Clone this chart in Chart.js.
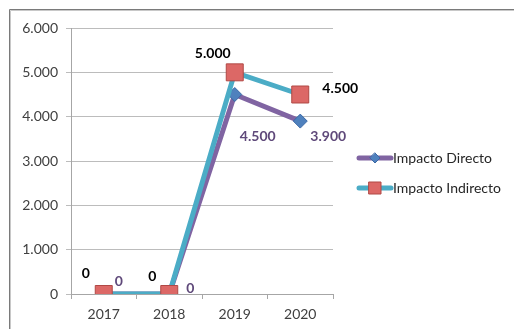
<!DOCTYPE html>
<html>
<head>
<meta charset="utf-8">
<script src="https://cdn.jsdelivr.net/npm/chart.js@4.4.1/dist/chart.umd.min.js"></script>
<style>
  html, body { margin: 0; padding: 0; background: #fff; }
  #wrap { width: 514px; height: 329px; }
</style>
</head>
<body>
<div id="wrap"><canvas id="chart" width="514" height="329"></canvas></div>
<script>
// ---- datos ----
const years = ['2017', '2018', '2019', '2020'];
const directo = [0, 0, 4500, 3900];
const indirecto = [0, 0, 5000, 4500];
const seriesNames = ['Impacto Directo', 'Impacto Indirecto'];
const yTicks = [0, 1000, 2000, 3000, 4000, 5000, 6000];

// desplazamientos de las etiquetas (estilo)
const offDirecto = [[15, -13], [21, -6], [23, 42], [28, 15]];
const offIndirecto = [[-18, -21], [-17, -18], [-22, -19], [40, -6]];

const FONT = 'Lato, "Open Sans", sans-serif';

function fmt(v) {
  return String(v).replace(/\B(?=(\d{3})+(?!\d))/g, '.');
}

// marco gris del recuadro (arriba e izquierda)
const framePlugin = {
  id: 'frame',
  beforeDraw(chart) {
    const ctx = chart.ctx;
    ctx.save();
    ctx.strokeStyle = '#c8c8c8';
    ctx.lineWidth = 1;
    ctx.beginPath();
    ctx.moveTo(10.5, 329); ctx.lineTo(10.5, 10.5); ctx.lineTo(514, 10.5);
    ctx.stroke();
    ctx.strokeStyle = '#7a7a7a';
    ctx.beginPath();
    ctx.moveTo(9.5, 329); ctx.lineTo(9.5, 9.5); ctx.lineTo(514, 9.5);
    ctx.stroke();
    ctx.restore();
  }
};

// etiquetas de datos
const labelPlugin = {
  id: 'valueLabels',
  afterDatasetsDraw(chart) {
    const ctx = chart.ctx;
    ctx.save();
    ctx.font = 'bold 14px ' + FONT;
    ctx.textAlign = 'center';
    ctx.textBaseline = 'middle';
    chart.data.datasets.forEach((ds, i) => {
      const meta = chart.getDatasetMeta(i);
      const offs = ds.labelOffsets;
      ctx.fillStyle = ds.labelColor;
      meta.data.forEach((pt, j) => {
        ctx.fillText(fmt(ds.data[j]), pt.x + offs[j][0], pt.y + offs[j][1]);
      });
    });
    ctx.restore();
  }
};

// leyenda a la derecha
const legendPlugin = {
  id: 'sideLegend',
  afterDraw(chart) {
    const ctx = chart.ctx;
    const rows = [
      { y: 158, ds: chart.data.datasets[0] },
      { y: 188, ds: chart.data.datasets[1] }
    ];
    ctx.save();
    rows.forEach(r => {
      ctx.strokeStyle = r.ds.borderColor;
      ctx.lineWidth = 5;
      ctx.lineCap = 'round';
      ctx.beginPath();
      ctx.moveTo(359, r.y); ctx.lineTo(391, r.y);
      ctx.stroke();
      ctx.fillStyle = r.ds.pointBackgroundColor;
      ctx.strokeStyle = r.ds.pointBorderColor;
      ctx.lineWidth = 1;
      ctx.beginPath();
      if (r.ds.pointStyle === 'rect') {
        ctx.rect(369, r.y - 6, 12, 12);
      } else {
        ctx.moveTo(375, r.y - 5); ctx.lineTo(380, r.y); ctx.lineTo(375, r.y + 5); ctx.lineTo(370, r.y);
        ctx.closePath();
      }
      ctx.fill();
      ctx.stroke();
      ctx.fillStyle = '#262626';
      ctx.font = '14px ' + FONT;
      ctx.textAlign = 'left';
      ctx.textBaseline = 'middle';
      ctx.fillText(r.ds.label, 393, r.y);
    });
    ctx.restore();
  }
};

new Chart(document.getElementById('chart'), {
  type: 'line',
  data: {
    labels: years,
    datasets: [
      {
        label: seriesNames[0],
        data: directo,
        borderColor: '#8064A2',
        borderWidth: 5,
        pointStyle: 'rectRot',
        pointRadius: 7,
        pointHoverRadius: 7,
        pointBackgroundColor: '#4F81BD',
        pointBorderColor: '#3A68A6',
        pointBorderWidth: 1,
        labelColor: '#5F497A',
        labelOffsets: offDirecto,
        order: 1
      },
      {
        label: seriesNames[1],
        data: indirecto,
        borderColor: '#4BACC6',
        borderWidth: 5,
        pointStyle: 'rect',
        pointRadius: 12,
        pointHoverRadius: 12,
        pointBackgroundColor: '#DC6866',
        pointBorderColor: '#B04845',
        pointBorderWidth: 1,
        labelColor: '#000000',
        labelOffsets: offIndirecto,
        order: 0
      }
    ]
  },
  options: {
    responsive: false,
    animation: false,
    layout: { padding: { left: 0, right: 181, top: 28, bottom: 0 } },
    plugins: {
      legend: { display: false },
      tooltip: { enabled: false }
    },
    scales: {
      x: {
        offset: true,
        border: { color: '#a6a6a6', width: 1 },
        grid: { drawOnChartArea: false, drawTicks: true, tickLength: 5, offset: true, color: '#a6a6a6' },
        ticks: { color: '#404040', font: { family: FONT, size: 14 }, padding: 7 },
        afterFit(scale) { scale.height = 35; }
      },
      y: {
        min: 0,
        max: 6000,
        afterBuildTicks(scale) { scale.ticks = yTicks.map(v => ({ value: v })); },
        border: { color: '#a6a6a6', width: 1 },
        grid: { color: '#bcbcbc', drawTicks: true, tickLength: 5 },
        ticks: {
          color: '#404040',
          font: { family: FONT, size: 14 },
          padding: 8,
          callback: v => fmt(v)
        },
        afterFit(scale) { scale.width = 71; }
      }
    }
  },
  plugins: [framePlugin, labelPlugin, legendPlugin]
});
</script>
</body>
</html>
